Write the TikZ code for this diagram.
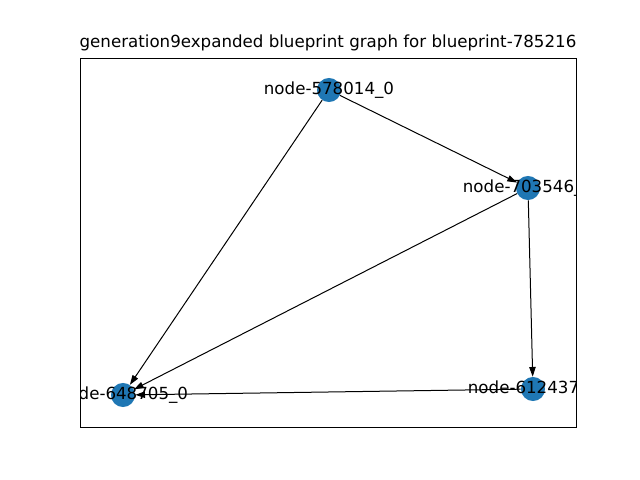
\documentclass[tikz,border=0pt]{standalone}
\usepackage{fontspec}
\setmainfont{DejaVu Sans}
\usetikzlibrary{arrows.meta}
\definecolor{nodeblue}{RGB}{31,119,180}

\begin{document}
\begin{tikzpicture}[x=0.72pt,y=0.72pt,yscale=-1,xscale=1,
  vertex/.style={circle,fill=nodeblue,draw=none,minimum size=17.3pt,inner sep=0pt},
  lbl/.style={inner sep=0pt,font=\fontsize{12}{14}\selectfont},
  edge/.style={line width=0.72pt,-{Triangle[length=7pt,width=4.6pt]}}]
\useasboundingbox (0,0) rectangle (640,480);

%Shape: Axes frame
\draw [line width=0.6pt] (80,58) rectangle (576,427);
% Title
\node (title) at (328,43) [lbl] {generation9expanded blueprint graph for blueprint-785216};

%Shape: Nodes
\node (n578014) at (329,90) [vertex] {};
\node (n703546) at (528,188) [vertex] {};
\node (n612437) at (533,389) [vertex] {};
\node (n648705) at (123,395) [vertex] {};

%Straight Lines: edges
\draw [edge] (n578014) -- (n703546);
\draw [edge] (n578014) -- (n648705);
\draw [edge] (n703546) -- (n648705);
\draw [edge] (n703546) -- (n612437);
\draw [edge] (n612437) -- (n648705);

% Text Node
\begin{scope}
\clip (80,58) rectangle (576,427);
\node (l578014) at (329,90) [lbl] {node-578014\_0};
\node (l703546) at (528,188) [lbl] {node-703546\_0};
\node (l612437) at (533,389) [lbl] {node-612437\_0};
\node (l648705) at (123,395) [lbl] {node-648705\_0};
\end{scope}

\end{tikzpicture}
\end{document}
